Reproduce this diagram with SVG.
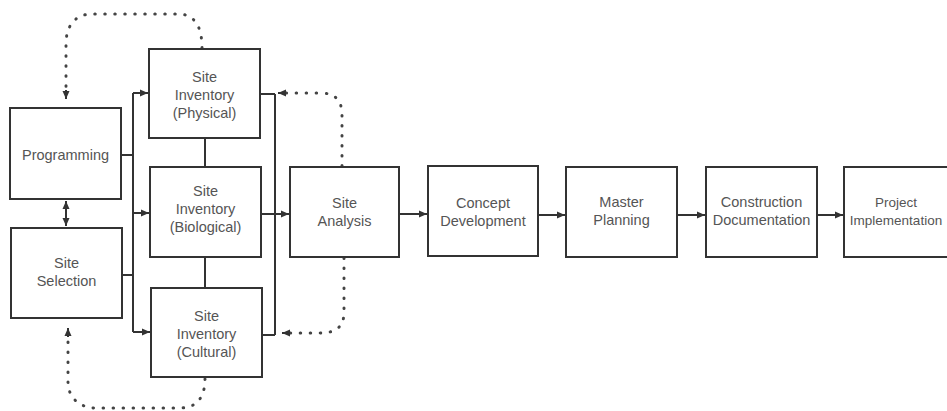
<svg xmlns="http://www.w3.org/2000/svg" width="947" height="411" viewBox="0 0 947 411">
<style>
.box{fill:#fff;stroke:#333;stroke-width:2}
.t{font-family:"Liberation Sans",Arial,sans-serif;font-size:14.5px;fill:#555;text-anchor:middle}
.ln{fill:none;stroke:#333;stroke-width:2}
.dot{fill:none;stroke:#444;stroke-width:3;stroke-linecap:round;stroke-dasharray:0.5 9.5}
</style>
<defs>
<marker id="ah" viewBox="0 0 8 8" refX="8" refY="4" markerWidth="8" markerHeight="8" markerUnits="userSpaceOnUse" orient="auto-start-reverse">
<path d="M0,0.5 L8,4 L0,7.5 z" fill="#333"/>
</marker>
</defs>
<rect width="947" height="411" fill="#fff"/>
<g id="connectors">
<path class="ln" d="M121,155 H133 M122,275 H133 M133,93 V332"/>
<path class="ln" d="M133,93 H148" marker-end="url(#ah)"/>
<path class="ln" d="M133,213 H149" marker-end="url(#ah)"/>
<path class="ln" d="M133,332 H150" marker-end="url(#ah)"/>
<path class="ln" d="M205,138 V167 M205,257 V288"/>
<path class="ln" d="M260,94 H275 M262,335 H275 M275,94 V335 M261,214 H275"/>
<path class="ln" d="M275,214 H289" marker-end="url(#ah)"/>
<path class="ln" d="M399,214 H427" marker-end="url(#ah)"/>
<path class="ln" d="M538,215 H565" marker-end="url(#ah)"/>
<path class="ln" d="M677,215 H705" marker-end="url(#ah)"/>
<path class="ln" d="M817,215 H843" marker-end="url(#ah)"/>
<path class="ln" d="M66,201 V226" marker-start="url(#ah)" marker-end="url(#ah)"/>
<path class="dot" d="M202,48 C202,24 193,14 178,14 L92,14 C75,14 66,26 66,44 L66,92"/>
<path class="ln" d="M66,90 V99" marker-end="url(#ah)"/>
<path class="dot" d="M205,379 C205,398 196,408 180,408 L96,408 C80,408 68,398 68,382 L68,336"/>
<path class="ln" d="M68,337 V328" marker-end="url(#ah)"/>
<path class="dot" d="M342,166 L342,115 C342,100 335,93 320,93 L286,93"/>
<path class="ln" d="M286,93 H278" marker-end="url(#ah)"/>
<path class="dot" d="M344,258 L344,312 C344,326 337,333 320,333 L290,333"/>
<path class="ln" d="M290,333 H282" marker-end="url(#ah)"/>
</g>
<g id="programming"><rect class="box" x="10" y="108" width="111" height="91"/><text class="t" x="65.5" y="160">Programming</text></g>
<g id="site-selection"><rect class="box" x="11" y="228" width="111" height="90"/><text class="t" x="66.5" y="268">Site</text><text class="t" x="66.5" y="286">Selection</text></g>
<g id="inv-physical"><rect class="box" x="149" y="49" width="111" height="89"/><text class="t" x="204.5" y="82">Site</text><text class="t" x="204.5" y="100">Inventory</text><text class="t" x="204.5" y="118">(Physical)</text></g>
<g id="inv-biological"><rect class="box" x="150" y="167" width="111" height="90"/><text class="t" x="205.5" y="196">Site</text><text class="t" x="205.5" y="214">Inventory</text><text class="t" x="205.5" y="232">(Biological)</text></g>
<g id="inv-cultural"><rect class="box" x="151" y="288" width="111" height="89"/><text class="t" x="206.5" y="321">Site</text><text class="t" x="206.5" y="339">Inventory</text><text class="t" x="206.5" y="357">(Cultural)</text></g>
<g id="site-analysis"><rect class="box" x="290" y="167" width="109" height="90"/><text class="t" x="344.5" y="208">Site</text><text class="t" x="344.5" y="226">Analysis</text></g>
<g id="concept"><rect class="box" x="428" y="166" width="110" height="90"/><text class="t" x="483" y="208">Concept</text><text class="t" x="483" y="226">Development</text></g>
<g id="master"><rect class="box" x="566" y="167" width="111" height="90"/><text class="t" x="621.5" y="207">Master</text><text class="t" x="621.5" y="225">Planning</text></g>
<g id="construction"><rect class="box" x="706" y="167" width="111" height="90"/><text class="t" x="761.5" y="207">Construction</text><text class="t" x="761.5" y="225">Documentation</text></g>
<g id="project"><rect class="box" x="844" y="167" width="111" height="90"/><text class="t" x="896" y="207" style="font-size:13.5px">Project</text><text class="t" x="896" y="225" style="font-size:13.5px">Implementation</text></g>
</svg>
